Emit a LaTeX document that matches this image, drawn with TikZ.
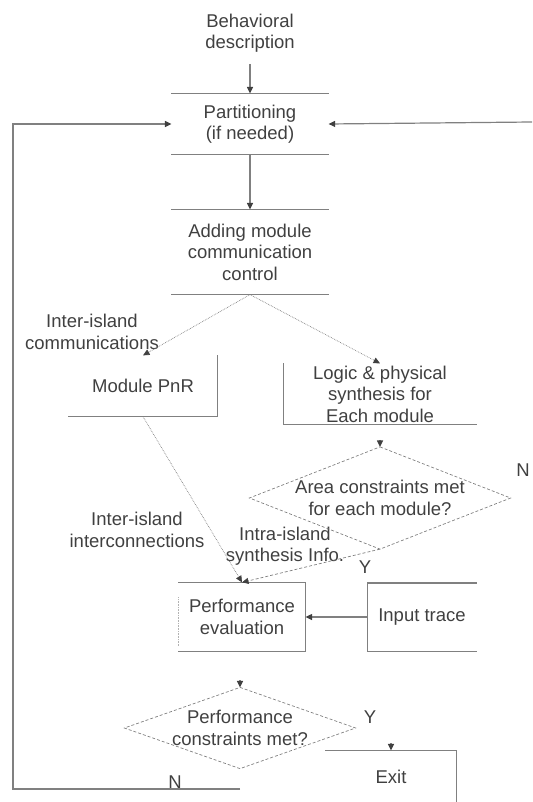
\documentclass[tikz,border=0pt]{standalone}
\usepackage{fontspec}
\setmainfont{Liberation Sans}
\usetikzlibrary{arrows.meta}
\definecolor{linegray}{gray}{0.5}
\definecolor{textgray}{gray}{0.25}
\begin{document}
\begin{tikzpicture}[x=1pt,y=-1pt,color=linegray,line width=1.2pt,
  every node/.style={font=\fontsize{18.5}{21.5}\selectfont,text=textgray,align=center,inner sep=0pt},
  tip/.style={-{Triangle[length=6.5pt,width=6pt,color=textgray]}},
  flow/.style={tip,densely dotted,line width=0.7pt},
  dashline/.style={dash pattern=on 3pt off 2pt,line width=0.7pt}]
  \useasboundingbox (0,0) rectangle (532,802);
  % boxes
  \node (desc) at (250,33) {Behavioral\\description};
  \node[minimum width=156,minimum height=60] (part) at (250,124) {Partitioning\\(if needed)};
  \node[minimum width=156,minimum height=84] (add) at (250,252) {Adding module\\communication\\control};
  \node[minimum width=148,minimum height=60] (pnr) at (143,386) {Module PnR};
  \node[minimum width=192,minimum height=60] (logic) at (380,394) {Logic \& physical\\synthesis for\\Each module};
  \node[minimum width=260,minimum height=101] (area) at (380,498) {Area constraints met\\for each module?};
  \node[minimum width=126,minimum height=68] (perf) at (242,617) {Performance\\evaluation};
  \node[minimum width=108,minimum height=67] (trace) at (422,617) {Input trace};
  \node[minimum width=230,minimum height=80] (pcheck) at (240,728) {Performance\\constraints met?};
  \node[minimum width=130,minimum height=52] (exit) at (391,777) {Exit};
  % labels
  \node (lcomm) at (92,332) {Inter-island\\communications};
  \node (lconn) at (137,530) {Inter-island\\interconnections};
  \node (lintra) at (285,546) {Intra-island\\synthesis Info.};
  \node (nArea) at (523,470) {N};
  \node (yArea) at (365,567) {Y};
  \node (yPerf) at (370,717) {Y};
  \node (nPerf) at (175,782) {N};
  % partial outlines
  \draw (part.north west) -- (part.north east) (part.south west) -- (part.south east);
  \draw (add.north west) -- (add.north east) (add.south west) -- (add.south east);
  \draw (pnr.north east) -- (pnr.south east) -- (pnr.south west);
  \draw (logic.north west) -- (logic.south west) -- (logic.south east);
  \draw[dashline] (area.north) -- (area.east) -- (area.south) -- (area.west) -- cycle;
  \draw (perf.north west) -- (perf.north east) -- (perf.south east) -- (perf.south west);
  \draw[densely dotted,line width=0.6pt,gray!60] ([yshift=-15pt]perf.north west) -- ([yshift=5pt]perf.south west);
  \draw (trace.north east) -- (trace.north west) -- (trace.south west) -- (trace.south east);
  \draw[dashline] (pcheck.north) -- (pcheck.east) -- (pcheck.south) -- (pcheck.west) -- cycle;
  \draw (exit.north west) -- (exit.north east) -- (exit.south east);
  % arrows
  \draw[tip,shorten <=11pt] (desc.south) -- (part.north);
  \draw[tip] (part.south) -- (add.north);
  \draw[flow] (add.south) -- (pnr.north);
  \draw[flow] (add.south) -- (logic.north);
  \draw[tip] ([yshift=7pt]area.north) -- (area.north);
  \draw[flow] (pnr.south) -- (perf.north);
  \draw[flow,dashline] (area.south) -- (perf.north);
  \draw[tip] (trace.west) -- (perf.east);
  \draw[tip] ([yshift=7pt]pcheck.north) -- (pcheck.north);
  \draw[tip] ([yshift=7pt]exit.north) -- (exit.north);
  % feedback loops
  \coordinate (loopL) at (13,789);
  \coordinate (loopR) at (532,122);
  \draw[tip] (pcheck.south |- loopL) -- (loopL) |- (part.west);
  \draw[tip] (loopR) -- (part.east);
\end{tikzpicture}
\end{document}
